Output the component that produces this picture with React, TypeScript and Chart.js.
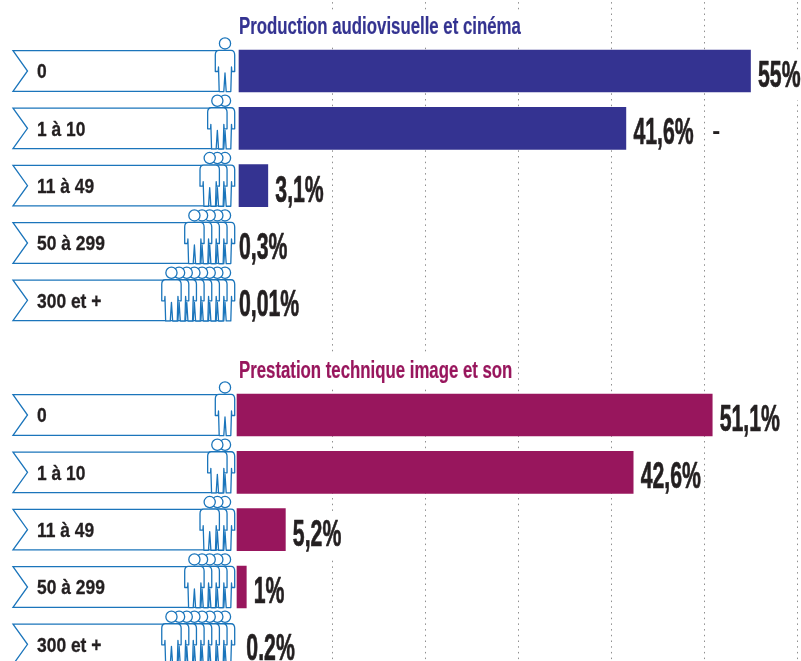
import React, { useEffect, useRef } from "react";
import { Chart, registerables } from "chart.js";

Chart.register(...registerables);

const sizeClasses = ["0", "1 à 10", "11 à 49", "50 à 299", "300 et +"];
const peopleCounts = [1, 2, 3, 5, 8];
const productionTitle = "Production audiovisuelle et cinéma";
const productionValues = [55, 41.6, 3.1, 0.3, 0.01];
const productionLabels = ["55%", "41,6%", "3,1%", "0,3%", "0,01%"];
const prestationTitle = "Prestation technique image et son";
const prestationValues = [51.1, 42.6, 5.2, 1, 0.2];
const prestationLabels = ["51,1%", "42,6%", "5,2%", "1%", "0.2%"];
const gridMax = 60;

const NAVY = "#343391";
const PURPLE = "#98165d";
const INK = "#231f20";
const BLUE = "#1b75bb";
const FAMILY = '"Liberation Sans", sans-serif';

const blanks = (n: number) => Array.from({ length: n }, () => null as number | null);
const rowLabels = ["", ...sizeClasses, " ", ...sizeClasses];
const productionData = [...blanks(1), ...productionValues, ...blanks(6)];
const prestationData = [...blanks(7), ...prestationValues];

function squeezedText(
  ctx: CanvasRenderingContext2D,
  text: string,
  x: number,
  y: number,
  font: string,
  color: string,
  sx: number,
  weight = 0
) {
  ctx.save();
  ctx.font = font;
  ctx.fillStyle = color;
  ctx.strokeStyle = color;
  ctx.textAlign = "left";
  ctx.textBaseline = "middle";
  ctx.translate(x, y);
  ctx.scale(sx, 1);
  if (weight > 0) {
    ctx.lineWidth = weight;
    ctx.lineJoin = "round";
    ctx.strokeText(text, 0, 0);
  }
  ctx.fillText(text, 0, 0);
  ctx.restore();
}

function person(ctx: CanvasRenderingContext2D, cx: number, cy: number) {
  ctx.save();
  ctx.translate(cx, cy);
  ctx.fillStyle = "#ffffff";
  ctx.strokeStyle = BLUE;
  ctx.lineWidth = 1.3;
  ctx.lineJoin = "round";
  ctx.beginPath();
  ctx.arc(0, -27.6, 5.6, 0, Math.PI * 2);
  ctx.fill();
  ctx.stroke();
  ctx.beginPath();
  ctx.moveTo(-6, -20.6);
  ctx.lineTo(6, -20.6);
  ctx.quadraticCurveTo(9.7, -20.6, 9.7, -16);
  ctx.lineTo(9.7, 0.5);
  ctx.lineTo(6.8, 0.5);
  ctx.lineTo(6.5, -4);
  ctx.lineTo(5.8, 20.6);
  ctx.lineTo(1.2, 20.6);
  ctx.lineTo(0, 2);
  ctx.lineTo(-1.2, 20.6);
  ctx.lineTo(-5.8, 20.6);
  ctx.lineTo(-6.5, -4);
  ctx.lineTo(-6.8, 0.5);
  ctx.lineTo(-9.7, 0.5);
  ctx.lineTo(-9.7, -16);
  ctx.quadraticCurveTo(-9.7, -20.6, -6, -20.6);
  ctx.closePath();
  ctx.fill();
  ctx.stroke();
  ctx.restore();
}

const ribbonPlugin = {
  id: "ribbons",
  beforeDatasetsDraw(chart: any) {
    const { ctx, scales } = chart;
    const y = scales.y;
    rowLabels.forEach((label, i) => {
      const idx = i < 6 ? i - 1 : i - 7;
      if (idx < 0 || idx > 4) return;
      const cy = y.getPixelForValue(i);
      ctx.save();
      ctx.strokeStyle = BLUE;
      ctx.lineWidth = 1.3;
      ctx.beginPath();
      ctx.moveTo(222, cy - 20.3);
      ctx.lineTo(13, cy - 20.3);
      ctx.lineTo(27.5, cy);
      ctx.lineTo(13, cy + 20.3);
      ctx.lineTo(222, cy + 20.3);
      ctx.stroke();
      ctx.restore();
      for (let k = 0; k < peopleCounts[idx]; k++) {
        person(ctx, 225 - k * 7.65, cy);
      }
      squeezedText(ctx, y.getLabelForValue(i), 37, cy + 1.5, 'bold 21px ' + FAMILY, INK, 0.83, 0.3);
    });
  },
};

const textPlugin = {
  id: "barTexts",
  afterDatasetsDraw(chart: any) {
    const { ctx, scales } = chart;
    const y = scales.y;
    const valueFont = 'bold 36px ' + FAMILY;
    const titleFont = 'bold 23px ' + FAMILY;

    const drawPanel = (
      title: string,
      color: string,
      values: number[],
      labels: string[],
      firstRow: number,
      xScale: any,
      titleWidth: number
    ) => {
      const ty = y.getPixelForValue(firstRow) - 43.5;
      ctx.save();
      ctx.fillStyle = "#ffffff";
      ctx.fillRect(238, ty - 17, titleWidth + 3, 34);
      ctx.restore();
      squeezedText(ctx, title, 239, ty, titleFont, color, 0.73, 0.2);
      values.forEach((v, i) => {
        const cy = y.getPixelForValue(firstRow + i);
        const noBar = chart.data.datasets[firstRow === 1 ? 0 : 1].backgroundColor[firstRow + i] === "transparent";
        const atBase = noBar && firstRow === 1;
        const lx = atBase ? scales.x.getPixelForValue(0) : xScale.getPixelForValue(v) + 7.5;
        ctx.save();
        ctx.font = valueFont;
        const w = ctx.measureText(labels[i]).width * 0.59;
        ctx.fillStyle = "#ffffff";
        ctx.fillRect(lx - 2, cy - 18, w + 4, 47);
        ctx.restore();
        squeezedText(ctx, labels[i], lx, cy + 6, valueFont, INK, 0.59, 0.7);
      });
    };

    drawPanel(productionTitle, NAVY, productionValues, productionLabels, 1, scales.x, 282);
    drawPanel(prestationTitle, PURPLE, prestationValues, prestationLabels, 7, scales.x2, 277);
    squeezedText(ctx, "-", scales.x.getPixelForValue(50.9), y.getPixelForValue(2) + 4, 'bold 24px ' + FAMILY, INK, 1);
  },
};

export default function App() {
  const ref = useRef<HTMLCanvasElement>(null);

  useEffect(() => {
    if (!ref.current) return;
    const colors = (data: (number | null)[], color: string, hidden: number[]) =>
      data.map((v) => (v !== null && hidden.includes(v) ? "transparent" : color));
    const chart = new Chart(ref.current, {
      type: "bar",
      data: {
        labels: rowLabels,
        datasets: [
          {
            data: productionData,
            xAxisID: "x",
            backgroundColor: colors(productionData, NAVY, [0.3, 0.01]),
            categoryPercentage: 1,
            barPercentage: 1,
            barThickness: 42,
            grouped: false,
          } as any,
          {
            data: prestationData,
            xAxisID: "x2",
            backgroundColor: colors(prestationData, PURPLE, [0.2]),
            categoryPercentage: 1,
            barPercentage: 1,
            barThickness: 42,
            grouped: false,
          } as any,
        ],
      },
      plugins: [ribbonPlugin, textPlugin],
      options: {
        indexAxis: "y",
        responsive: false,
        animation: false,
        layout: { padding: { left: 37, right: 4, top: 0, bottom: 0 } },
        plugins: { legend: { display: false }, tooltip: { enabled: false }, title: { display: false } },
        scales: {
          x: {
            type: "linear",
            position: "top",
            min: -1,
            max: gridMax,
            ticks: { display: false, stepSize: 10 },
            grid: {
              drawTicks: false,
              lineWidth: 1,
              color: (c: any) => (c.tick && c.tick.value > 0 ? "#8f8f8f" : "transparent"),
            },
            border: { display: false, dash: [1.5, 4.2] },
          },
          x2: {
            type: "linear",
            display: false,
            min: -0.785,
            max: gridMax + 0.215,
          },
          y: {
            type: "category",
            offset: true,
            ticks: { display: false, autoSkip: false },
            grid: { display: false, drawTicks: false },
            border: { display: false },
            afterFit: (s: any) => {
              s.width = 192.7;
            },
          },
        },
      } as any,
    });
    return () => chart.destroy();
  }, []);

  return (
    <div style={{ position: "absolute", left: 0, top: 0, width: 801, height: 661, overflow: "hidden", background: "#fff" }}>
      <canvas ref={ref} width={801} height={688} style={{ display: "block", position: "absolute", left: 0, top: -15 }} />
    </div>
  );
}
